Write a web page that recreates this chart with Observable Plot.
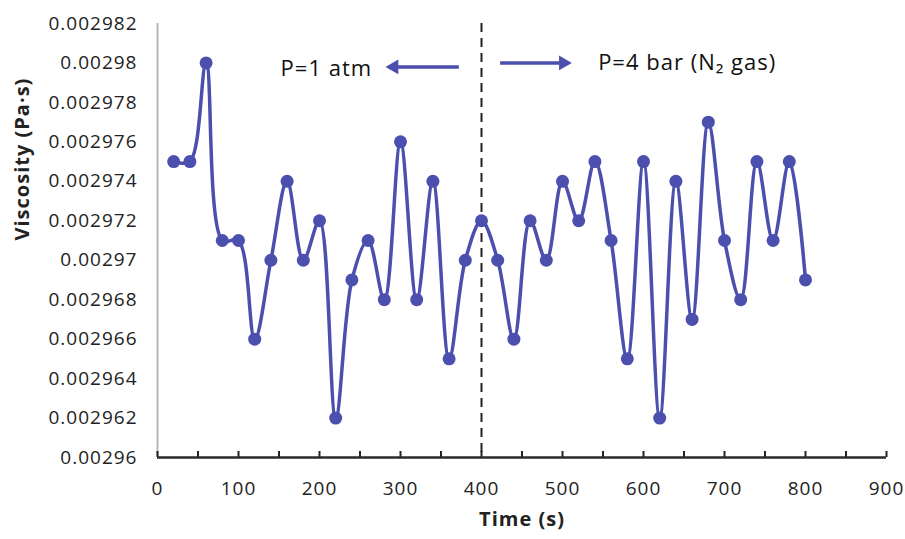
<!DOCTYPE html>
<html><head><meta charset="utf-8">
<script src="https://cdn.jsdelivr.net/npm/d3@7"></script>
<script src="https://cdn.jsdelivr.net/npm/@observablehq/plot@0.6"></script>
<style>
body{margin:0;background:#fff}
#chart svg text{letter-spacing:1px}
</style>
</head><body><div id="chart"></div>
<script>
const time = [20,40,60,80,100,120,140,160,180,200,220,240,260,280,300,320,340,360,380,400,
              420,440,460,480,500,520,540,560,580,600,620,640,660,680,700,720,740,760,780,800];
const viscosity = [0.002975,0.002975,0.00298,0.002971,0.002971,0.002966,0.00297,0.002974,0.00297,0.002972,
                   0.002962,0.002969,0.002971,0.002968,0.002976,0.002968,0.002974,0.002965,0.00297,0.002972,
                   0.00297,0.002966,0.002972,0.00297,0.002974,0.002972,0.002975,0.002971,0.002965,0.002975,
                   0.002962,0.002974,0.002967,0.002977,0.002971,0.002968,0.002975,0.002971,0.002975,0.002969];
const xTicks = [0,100,200,300,400,500,600,700,800,900];
const xMinorTicks = [0,50,100,150,200,250,300,350,400,450,500,550,600,650,700,750,800,850,900];
const yTicks = [0.00296,0.002962,0.002964,0.002966,0.002968,0.00297,0.002972,0.002974,0.002976,0.002978,0.00298,0.002982];
const divider = [400];
// annotations (data units)
const arrowTailX = [372, 423];
const arrowTipX = [292, 501];
const arrowY = [0.0029798, 0.0029800];
const arrowRotate = [-90, 90];
const leftLabel = "P=1 atm";
const leftLabelPos = {x: 265, y: 0.0029797};
const rightLabel = "P=4 bar (N\u2082 gas)";
const rightLabelPos = {x: 544, y: 0.0029800};
const xTitle = "Time (s)";
const yTitle = "Viscosity (Pa\u00b7s)";

const data = time.map((t, i) => ({t, v: viscosity[i]}));
const arrows = arrowTailX.map((x, i) => ({x1: x, x2: arrowTipX[i], y: arrowY[i], rot: arrowRotate[i]}));
const col = "#4b4fae";

const chart = Plot.plot({
  width: 905, height: 539,
  marginLeft: 157, marginRight: 19, marginTop: 23, marginBottom: 82,
  style: {fontFamily: "'Open Sans', sans-serif", fontSize: "19px", background: "#fff", color: "#222"},
  x: {domain: [0, 900], axis: null},
  y: {domain: [0.00296, 0.002982], axis: null},
  marks: [
    Plot.ruleX([0], {stroke: "#b8b8b8", strokeWidth: 2}),
    Plot.ruleX(divider, {stroke: "#222", strokeWidth: 2, strokeDasharray: "9,6"}),
    Plot.axisY({ticks: yTicks, tickSize: 0, tickPadding: 20, tickFormat: d => String(+d.toFixed(6)), label: null, fill: "#222"}),
    Plot.axisX({ticks: xMinorTicks, tickSize: -6, tickFormat: () => "", label: null, stroke: "#222", strokeWidth: 2}),
    Plot.axisX({ticks: xTicks, tickSize: 0, tickPadding: 24, tickFormat: d => String(d), label: null, fill: "#222"}),
    Plot.ruleY([0.00296], {stroke: "#2a2a2a", strokeWidth: 2.5}),
    Plot.line(data, {x: "t", y: "v", curve: "catmull-rom", stroke: col, strokeWidth: 3.5}),
    Plot.dot(data, {x: "t", y: "v", r: 6.5, fill: col}),
    Plot.link(arrows, {x1: "x1", x2: "x2", y1: "y", y2: "y", stroke: col, strokeWidth: 3.5}),
    Plot.dot(arrows, {x: "x2", y: "y", symbol: "triangle", rotate: "rot", r: 5.5, fill: col}),
    Plot.text([leftLabel], {x: leftLabelPos.x, y: leftLabelPos.y, text: d => d, textAnchor: "end", fontSize: 22, fill: "#111"}),
    Plot.text([rightLabel], {x: rightLabelPos.x, y: rightLabelPos.y, text: d => d, textAnchor: "start", fontSize: 22, fill: "#111"}),
    Plot.text([xTitle], {text: d => d, frameAnchor: "bottom", dy: 68, fontSize: 20, fontWeight: "bold", fill: "#222"}),
    Plot.text([yTitle], {text: d => d, frameAnchor: "left", dx: -135, rotate: -90, fontSize: 20, fontWeight: "bold", fill: "#222"})
  ]
});
document.getElementById("chart").appendChild(chart);
</script>
</body></html>
